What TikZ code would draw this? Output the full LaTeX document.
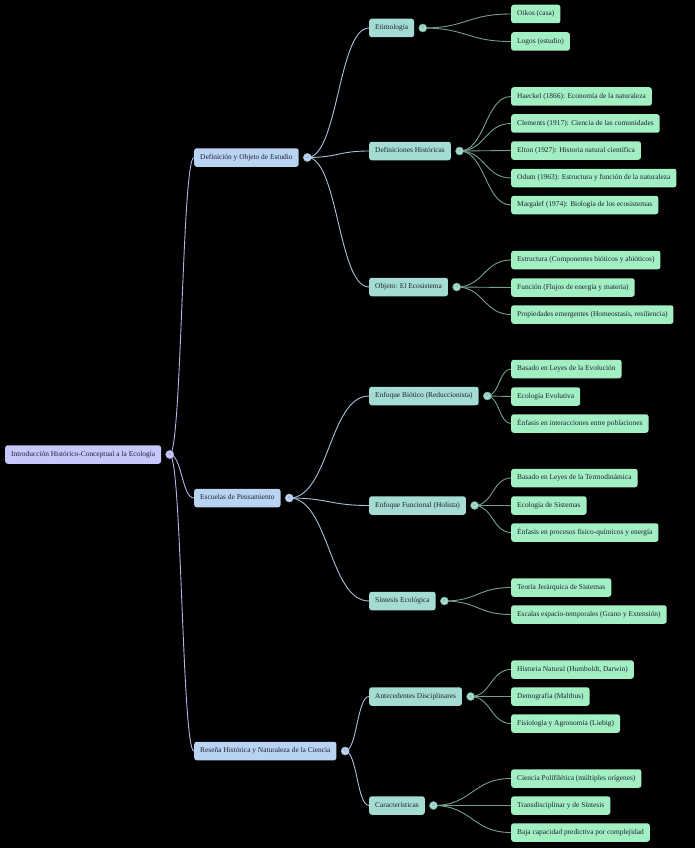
\documentclass[tikz,border=0pt]{standalone}
\usepackage{fontspec}
\setmainfont{Liberation Serif}
\usetikzlibrary{calc}

\definecolor{rootfill}{HTML}{C6C7FA}
\definecolor{topfill}{HTML}{B9D3F3}
\definecolor{subfill}{HTML}{A4DCD3}
\definecolor{leaffill}{HTML}{A3EFC4}
\definecolor{rootline}{HTML}{B3B5E6}
\definecolor{topline}{HTML}{A8C1DA}
\definecolor{subline}{HTML}{779F8F}
\definecolor{ink}{HTML}{1E2030}

\begin{document}
\begin{tikzpicture}[x=1pt,y=-1pt,
    box/.style={rounded corners=2.5pt, anchor=west, inner xsep=6pt, inner ysep=0pt,
      minimum height=18.5pt, text height=5.2pt, text depth=1.6pt,
      font=\fontsize{7.4}{8.5}\selectfont, text=ink},
    rootbox/.style={box, fill=rootfill},
    topbox/.style={box, fill=topfill},
    subbox/.style={box, fill=subfill},
    leafbox/.style={box, fill=leaffill},
    knob/.style={circle, inner sep=0pt, minimum size=8pt, line width=0.5pt,
      font=\fontsize{5.5}{5.5}\selectfont, text=ink!70},
    branch/.style={line width=0.9pt, to path={let \p1=(\tikztostart), \p2=(\tikztotarget) in
      .. controls ({(\x1+\x2)/2},\y1) and ({(\x1+\x2)/2},\y2) .. (\tikztotarget)}}
  ]
    \fill[black] (0,0) rectangle (695,848);
    \useasboundingbox (0,0) rectangle (695,848);

    % root and main topics
    \node[rootbox] (intro) at (5,454.5) {Introducción Histórico-Conceptual a la Ecología};
    \node[topbox] (defin) at (194,157.5) {Definición y Objeto de Estudio};
    \node[topbox] (escuelas) at (194,498) {Escuelas de Pensamiento};
    \node[topbox] (resena) at (194,751) {Reseña Histórica y Naturaleza de la Ciencia};

    % subtopics
    \node[subbox] (etim) at (369,28) {Etimología};
    \node[subbox] (defhist) at (369,151) {Definiciones Históricas};
    \node[subbox] (objeto) at (369,287) {Objeto: El Ecosistema};
    \node[subbox] (biotico) at (369,396) {Enfoque Biótico (Reduccionista)};
    \node[subbox] (funcional) at (369,505.5) {Enfoque Funcional (Holista)};
    \node[subbox] (sintesis) at (369,601) {Síntesis Ecológica};
    \node[subbox] (antec) at (369,696.5) {Antecedentes Disciplinares};
    \node[subbox] (caract) at (369,805.5) {Características};

    % leaves
    \node[leafbox] (oikos) at (511,14) {Oikos (casa)};
    \node[leafbox] (logos) at (511,41.5) {Logos (estudio)};
    \node[leafbox] (haeckel) at (511,96.5) {Haeckel (1866): Economía de la naturaleza};
    \node[leafbox] (clements) at (511,123.5) {Clements (1917): Ciencia de las comunidades};
    \node[leafbox] (elton) at (511,150.5) {Elton (1927): Historia natural científica};
    \node[leafbox] (odum) at (511,178) {Odum (1963): Estructura y función de la naturaleza};
    \node[leafbox] (margalef) at (511,205) {Margalef (1974): Biología de los ecosistemas};
    \node[leafbox] (estruct) at (511,260) {Estructura (Componentes bióticos y abióticos)};
    \node[leafbox] (funcion) at (511,287.5) {Función (Flujos de energía y materia)};
    \node[leafbox] (propied) at (511,314.5) {Propiedades emergentes (Homeostasis, resiliencia)};
    \node[leafbox] (evol) at (511,369) {Basado en Leyes de la Evolución};
    \node[leafbox] (ecoevol) at (511,396.5) {Ecología Evolutiva};
    \node[leafbox] (interac) at (511,423.5) {Énfasis en interacciones entre poblaciones};
    \node[leafbox] (termo) at (511,478) {Basado en Leyes de la Termodinámica};
    \node[leafbox] (ecosis) at (511,505.5) {Ecología de Sistemas};
    \node[leafbox] (procesos) at (511,532.5) {Énfasis en procesos físico-químicos y energía};
    \node[leafbox] (jerarq) at (511,587.5) {Teoría Jerárquica de Sistemas};
    \node[leafbox] (escalas) at (511,614.5) {Escalas espacio-temporales (Grano y Extensión)};
    \node[leafbox] (histnat) at (511,669.5) {Historia Natural (Humboldt, Darwin)};
    \node[leafbox] (demog) at (511,696.5) {Demografía (Malthus)};
    \node[leafbox] (fisio) at (511,723.5) {Fisiología y Agronomía (Liebig)};
    \node[leafbox] (polif) at (511,778.5) {Ciencia Polifilética (múltiples orígenes)};
    \node[leafbox] (transd) at (511,805.5) {Transdisciplinar y de Síntesis};
    \node[leafbox] (baja) at (511,832.5) {Baja capacidad predictiva por complejidad};

    % knob positions
    \coordinate (intro-k) at ([xshift=8.5pt]intro.east);
    \coordinate (defin-k) at ([xshift=8.5pt]defin.east);
    \coordinate (escuelas-k) at ([xshift=8.5pt]escuelas.east);
    \coordinate (resena-k) at ([xshift=8.5pt]resena.east);
    \coordinate (etim-k) at ([xshift=8.5pt]etim.east);
    \coordinate (defhist-k) at ([xshift=8.5pt]defhist.east);
    \coordinate (objeto-k) at ([xshift=8.5pt]objeto.east);
    \coordinate (biotico-k) at ([xshift=8.5pt]biotico.east);
    \coordinate (funcional-k) at ([xshift=8.5pt]funcional.east);
    \coordinate (sintesis-k) at ([xshift=8.5pt]sintesis.east);
    \coordinate (antec-k) at ([xshift=8.5pt]antec.east);
    \coordinate (caract-k) at ([xshift=8.5pt]caract.east);

    % branches
    \draw[branch, rootline] (intro-k) to (defin.west);
    \draw[branch, rootline] (intro-k) to (escuelas.west);
    \draw[branch, rootline] (intro-k) to (resena.west);

    \draw[branch, topline] (defin-k) to (etim.west);
    \draw[branch, topline] (defin-k) to (defhist.west);
    \draw[branch, topline] (defin-k) to (objeto.west);
    \draw[branch, topline] (escuelas-k) to (biotico.west);
    \draw[branch, topline] (escuelas-k) to (funcional.west);
    \draw[branch, topline] (escuelas-k) to (sintesis.west);
    \draw[branch, topline] (resena-k) to (antec.west);
    \draw[branch, topline] (resena-k) to (caract.west);

    \draw[branch, subline] (etim-k) to (oikos.west);
    \draw[branch, subline] (etim-k) to (logos.west);
    \draw[branch, subline] (defhist-k) to (haeckel.west);
    \draw[branch, subline] (defhist-k) to (clements.west);
    \draw[branch, subline] (defhist-k) to (elton.west);
    \draw[branch, subline] (defhist-k) to (odum.west);
    \draw[branch, subline] (defhist-k) to (margalef.west);
    \draw[branch, subline] (objeto-k) to (estruct.west);
    \draw[branch, subline] (objeto-k) to (funcion.west);
    \draw[branch, subline] (objeto-k) to (propied.west);
    \draw[branch, subline] (biotico-k) to (evol.west);
    \draw[branch, subline] (biotico-k) to (ecoevol.west);
    \draw[branch, subline] (biotico-k) to (interac.west);
    \draw[branch, subline] (funcional-k) to (termo.west);
    \draw[branch, subline] (funcional-k) to (ecosis.west);
    \draw[branch, subline] (funcional-k) to (procesos.west);
    \draw[branch, subline] (sintesis-k) to (jerarq.west);
    \draw[branch, subline] (sintesis-k) to (escalas.west);
    \draw[branch, subline] (antec-k) to (histnat.west);
    \draw[branch, subline] (antec-k) to (demog.west);
    \draw[branch, subline] (antec-k) to (fisio.west);
    \draw[branch, subline] (caract-k) to (polif.west);
    \draw[branch, subline] (caract-k) to (transd.west);
    \draw[branch, subline] (caract-k) to (baja.west);

    % collapse knobs
    \node[knob, draw=rootline, fill=rootfill] (intro-knob) at (intro-k) {<};
    \node[knob, draw=topline, fill=topfill] (defin-knob) at (defin-k) {<};
    \node[knob, draw=topline, fill=topfill] (escuelas-knob) at (escuelas-k) {<};
    \node[knob, draw=topline, fill=topfill] (resena-knob) at (resena-k) {<};
    \node[knob, draw=subline, fill=subfill] (etim-knob) at (etim-k) {<};
    \node[knob, draw=subline, fill=subfill] (defhist-knob) at (defhist-k) {<};
    \node[knob, draw=subline, fill=subfill] (objeto-knob) at (objeto-k) {<};
    \node[knob, draw=subline, fill=subfill] (biotico-knob) at (biotico-k) {<};
    \node[knob, draw=subline, fill=subfill] (funcional-knob) at (funcional-k) {<};
    \node[knob, draw=subline, fill=subfill] (sintesis-knob) at (sintesis-k) {<};
    \node[knob, draw=subline, fill=subfill] (antec-knob) at (antec-k) {<};
    \node[knob, draw=subline, fill=subfill] (caract-knob) at (caract-k) {<};
\end{tikzpicture}
\end{document}
